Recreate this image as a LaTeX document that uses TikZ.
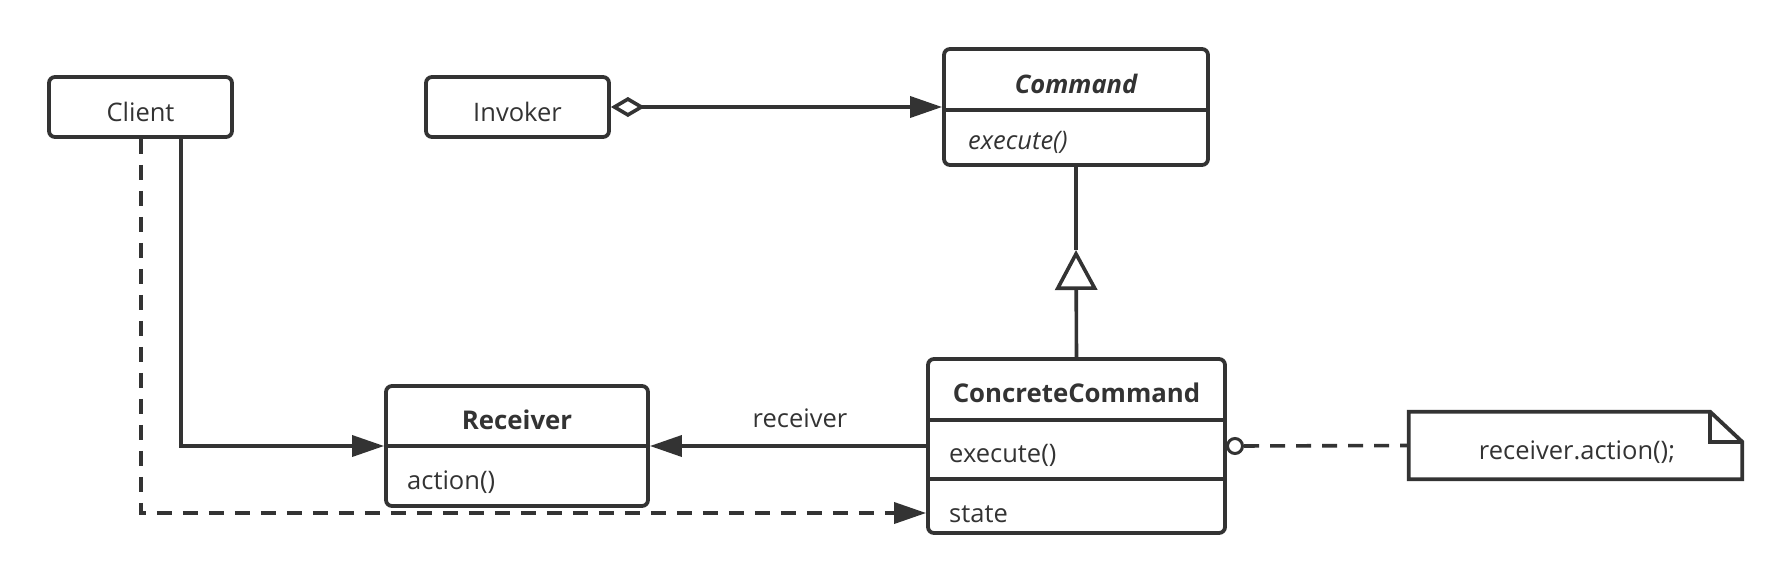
\documentclass[tikz,border=0pt]{standalone}
\usepackage{fontspec}
\setmainfont{Open Sans}
\usetikzlibrary{arrows.meta,calc}
\definecolor{ink}{HTML}{333333}
\begin{document}
\begin{tikzpicture}[x=1pt,y=-1pt,
  box/.style={draw=ink, line width=3.8pt, rounded corners=6pt, fill=white, inner sep=0pt},
  divider/.style={draw=ink, line width=3.4pt},
  conn/.style={draw=ink, line width=3.6pt},
  dashline/.style={conn, dash pattern=on 15pt off 11pt},
  filltip/.style={-{Triangle[length=32pt,width=21pt]}},
  lbl/.style={text=ink, font=\fontsize{25.5}{30}\selectfont, inner sep=0pt},
  notebox/.style={draw=ink, line width=3.8pt, line join=miter}
]
\useasboundingbox (0,0) rectangle (1791,581);
\fill[white] (0,0) rectangle (1791,581);

% Client
\node[box, minimum width=183pt, minimum height=60pt] (client) at (140.5,107) {};
\node[lbl, anchor=base] (clientT) at (140.5,121) {Client};

% Invoker
\node[box, minimum width=183pt, minimum height=60pt] (invoker) at (517.5,107) {};
\node[lbl, anchor=base] (invokerT) at (517.5,121) {Invoker};

% Command
\node[box, minimum width=264pt, minimum height=116pt] (command) at (1076,107) {};
\draw[divider] ([yshift=-3pt]command.west) -- ([yshift=-3pt]command.east);
\node[lbl, anchor=base, font=\fontsize{25.5}{30}\selectfont\bfseries\itshape] (commandT) at (1076,93) {Command};
\node[lbl, anchor=base west, font=\fontsize{25.5}{30}\selectfont\itshape] (commandOp) at (968,149) {execute()};

% ConcreteCommand
\node[box, minimum width=297pt, minimum height=174pt] (cc) at (1076.5,446) {};
\draw[divider] ([yshift=26pt]cc.west) -- ([yshift=26pt]cc.east);
\draw[divider] ([yshift=-33pt]cc.west) -- ([yshift=-33pt]cc.east);
\node[lbl, anchor=base, font=\fontsize{25.8}{30}\selectfont\bfseries] (ccT) at (1076.5,402) {ConcreteCommand};
\node[lbl, anchor=base west] (ccOp) at (949,462) {execute()};
\node[lbl, anchor=base west] (ccAttr) at (949,522) {state};
\coordinate (ccstate) at ([yshift=-67pt]cc.west);

% Receiver
\node[box, minimum width=262pt, minimum height=120pt] (receiver) at (517,446) {};
\draw[divider] (receiver.west) -- (receiver.east);
\node[lbl, anchor=base, font=\fontsize{25.8}{30}\selectfont\bfseries] (receiverT) at (517,429) {Receiver};
\node[lbl, anchor=base west] (receiverOp) at (407,489) {action()};

% Note
\node[inner sep=0pt, minimum width=333pt, minimum height=67pt] (note) at (1575.5,445.5) {};
\draw[notebox, fill=white] (note.north west) -- ([xshift=-32pt]note.north east) -- ([yshift=-30pt]note.north east) -- (note.south east) -- (note.south west) -- cycle;
\draw[notebox] ([xshift=-32pt]note.north east) |- ([yshift=-30pt]note.north east);
\node[lbl, anchor=base] (noteT) at (1577,459) {receiver.action();};

% Connectors
\draw[conn, filltip] ([xshift=40.5pt]client.south) |- (receiver.west);
\draw[dashline, filltip] ([xshift=0.5pt]client.south) |- (ccstate);
\draw[conn, {Diamond[open, length=34pt, width=20pt, fill=white]}-{Triangle[length=32pt,width=21pt]}] (invoker.east) -- (command.west);
\coordinate (gentip) at (1076,250);
\draw[conn, -{Triangle[open, length=40pt, width=42pt, fill=white]}] (cc.north) -- (gentip);
\draw[conn] (gentip) -- (command.south);
\draw[conn, filltip] (cc.west) -- (receiver.east);
\node[lbl, anchor=base] (recvLbl) at (800,427) {receiver};

\node[draw=ink, line width=3pt, circle, minimum size=15pt, inner sep=0pt, fill=white] (lol) at (1235,446) {};
\draw[dashline] (lol) -- (note.west);
\end{tikzpicture}
\end{document}
